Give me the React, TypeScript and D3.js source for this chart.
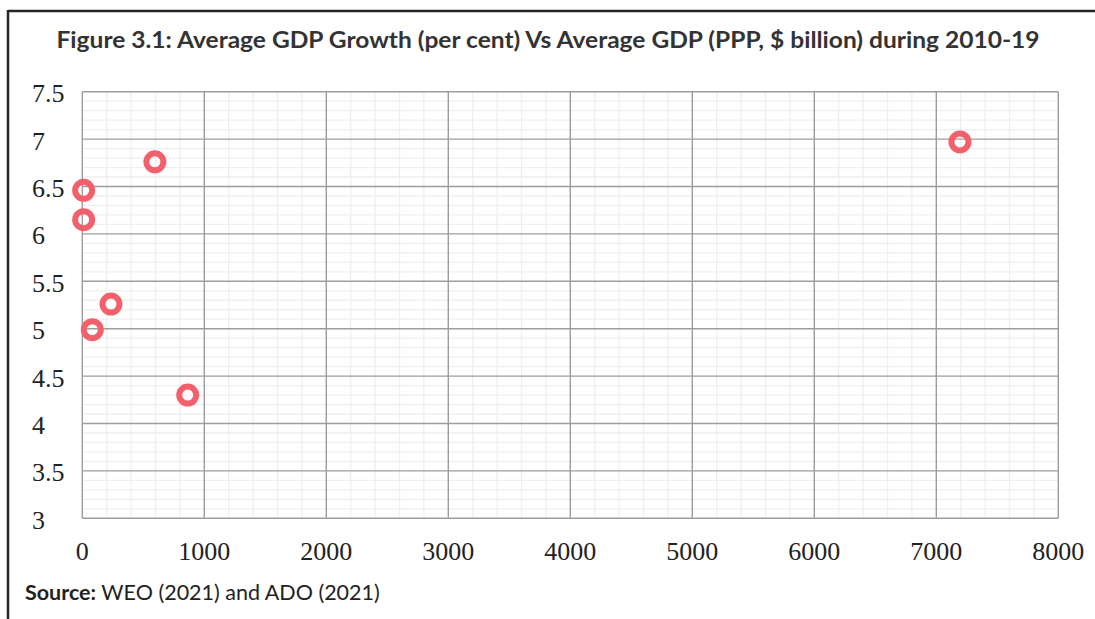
import React from "react";
import * as d3 from "d3";

// Average GDP (PPP, $ billion) and average GDP growth (%) over 2010-19
const gdpPPP: number[] = [595, 11, 11, 235, 82, 864, 7194];
const growthPct: number[] = [6.76, 6.46, 6.15, 5.26, 4.99, 4.3, 6.97];

const xTicks: number[] = [0, 1000, 2000, 3000, 4000, 5000, 6000, 7000, 8000];
const yTicks: number[] = [3, 3.5, 4, 4.5, 5, 5.5, 6, 6.5, 7, 7.5];
const yTickLabels: string[] = ["3", "3.5", "4", "4.5", "5", "5.5", "6", "6.5", "7", "7.5"];

const titleText =
  "Figure 3.1: Average GDP Growth (per cent) Vs Average GDP (PPP, $ billion) during 2010-19";

const W = 1095;
const H = 619;
const plot = { left: 82.3, right: 1058.3, top: 91.7, bottom: 518.3 };

export default function App() {
  const x = d3.scaleLinear().domain([0, 8000]).range([plot.left, plot.right]);
  const y = d3.scaleLinear().domain([3, 7.5]).range([plot.bottom, plot.top]);

  const xMinor = d3.range(0, 8000 + 1, 200).filter((v) => v % 1000 !== 0);
  const yMinor = d3
    .range(30, 76, 1)
    .map((v) => v / 10)
    .filter((v) => Math.round(v * 10) % 5 !== 0);

  const serif = "'Liberation Serif', 'Times New Roman', serif";
  const sans = "Lato, 'Open Sans', sans-serif";

  return (
    <svg
      width={W}
      height={H}
      viewBox={`0 0 ${W} ${H}`}
      style={{ position: "absolute", left: 0, top: 0, display: "block", background: "#fff" }}
    >
      {/* frame */}
      <line x1={8} y1={11} x2={W} y2={11} stroke="#262626" strokeWidth={2.5} />
      <line x1={8} y1={10} x2={8} y2={H} stroke="#262626" strokeWidth={2.5} />

      <text
        x={548}
        y={48}
        textAnchor="middle"
        fontFamily={sans}
        fontWeight="bold"
        fontSize={23.5}
        fill="#333"
        textLength={983}
        lengthAdjust="spacingAndGlyphs"
      >
        {titleText}
      </text>

      {/* minor gridlines */}
      <g stroke="#efefef" strokeWidth={1.3}>
        {xMinor.map((v) => (
          <line key={"xm" + v} x1={x(v)} x2={x(v)} y1={plot.top} y2={plot.bottom} />
        ))}
        {yMinor.map((v) => (
          <line key={"ym" + v} x1={plot.left} x2={plot.right} y1={y(v)} y2={y(v)} />
        ))}
      </g>

      {/* major gridlines */}
      <g stroke="#9d9d9d" strokeWidth={1.4}>
        {xTicks.map((v) => (
          <line key={"xM" + v} x1={x(v)} x2={x(v)} y1={plot.top} y2={plot.bottom} />
        ))}
        {yTicks.map((v) => (
          <line key={"yM" + v} x1={plot.left} x2={plot.right} y1={y(v)} y2={y(v)} />
        ))}
      </g>

      {/* y tick labels */}
      <g fontFamily={serif} fontSize={26} fill="#222">
        {yTicks.map((v, i) => (
          <text key={"yl" + v} x={32} y={y(v) + 10.5}>
            {yTickLabels[i]}
          </text>
        ))}
      </g>

      {/* x tick labels */}
      <g fontFamily={serif} fontSize={26} fill="#222" textAnchor="middle">
        {xTicks.map((v) => (
          <text key={"xl" + v} x={x(v)} y={560}>
            {d3.format("d")(v)}
          </text>
        ))}
      </g>

      {/* points */}
      <g fill="none" stroke="#F2606B" strokeWidth={6}>
        {gdpPPP.map((g, i) => (
          <circle key={"p" + i} cx={x(g)} cy={y(growthPct[i])} r={8.5} />
        ))}
      </g>

      <text x={25} y={600} fontFamily={sans} fontSize={21.5} fill="#222">
        <tspan fontWeight="bold">Source:</tspan>
        <tspan> WEO (2021) and ADO (2021)</tspan>
      </text>
    </svg>
  );
}
